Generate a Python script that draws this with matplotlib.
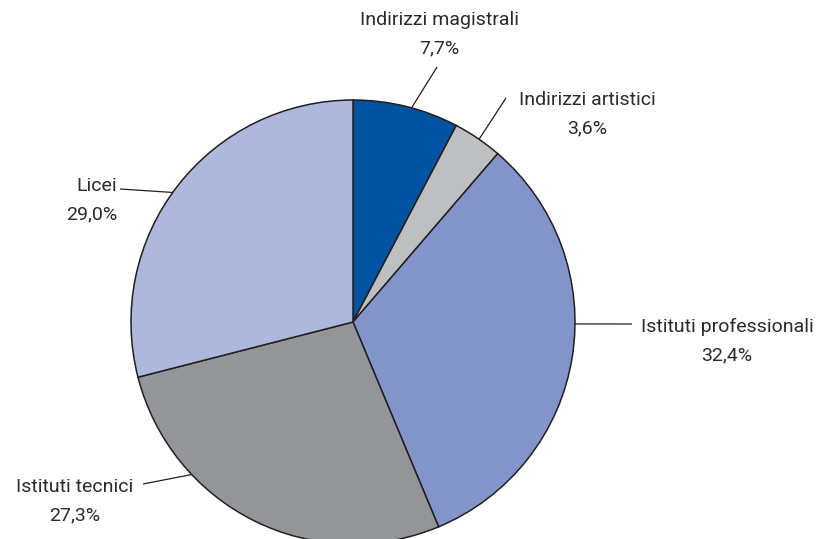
import numpy as np
import matplotlib
matplotlib.use("Agg")
import matplotlib.pyplot as plt

# School type shares (%), clockwise from the top
categories = ["Indirizzi magistrali", "Indirizzi artistici", "Istituti professionali",
              "Istituti tecnici", "Licei"]
values = [7.7, 3.6, 32.4, 27.3, 29.0]
colors = ["#0053A1", "#BEBFC1", "#8394CB", "#939598", "#AEB8DD"]

W, H = 825, 539
fig = plt.figure(figsize=(W / 100, H / 100), dpi=100)
ax = fig.add_axes([0, 0, 1, 1])

cx, cy, r = 353, H - 322, 222
wedges, _ = ax.pie(values, colors=colors, startangle=90, counterclock=False,
                   center=(cx, cy), radius=r, frame=True,
                   wedgeprops=dict(edgecolor="#231F20", linewidth=1.1))
ax.set_xlim(0, W)
ax.set_ylim(0, H)
ax.set_aspect("equal")
ax.axis("off")

# label placement: text anchor (pixels from top-left), alignment,
# leader start angle on the rim (deg) and leader end point
label_pos = [(439, 20, "center"), (587, 100, "center"), (727, 327, "center"),
             (75, 487, "center"), (117, 186, "right")]
leader_angle = [74.7, 55.4, -0.5, 223.4, 144.3]
leader_end = [(437, 67), (506, 98), (632, 324), (143, 484), (120, 189)]

font = dict(family="Roboto", fontsize=14, color="#2B2B2B")
for name, v, (tx, ty, ha), a, (ex, ey) in zip(categories, values, label_pos,
                                              leader_angle, leader_end):
    theta = np.deg2rad(a)
    sx = cx + r * np.cos(theta)
    sy = cy + r * np.sin(theta)
    ax.plot([sx, ex], [sy, H - ey], color="#231F20", lw=0.9, solid_capstyle="butt")
    pct = f"{v:.1f}%".replace(".", ",")
    ax.text(tx, H - ty, name, ha=ha, va="center", **font)
    ax.text(tx, H - ty - 28, pct, ha=ha, va="center", **font)

fig.savefig("out.png", dpi=100)
